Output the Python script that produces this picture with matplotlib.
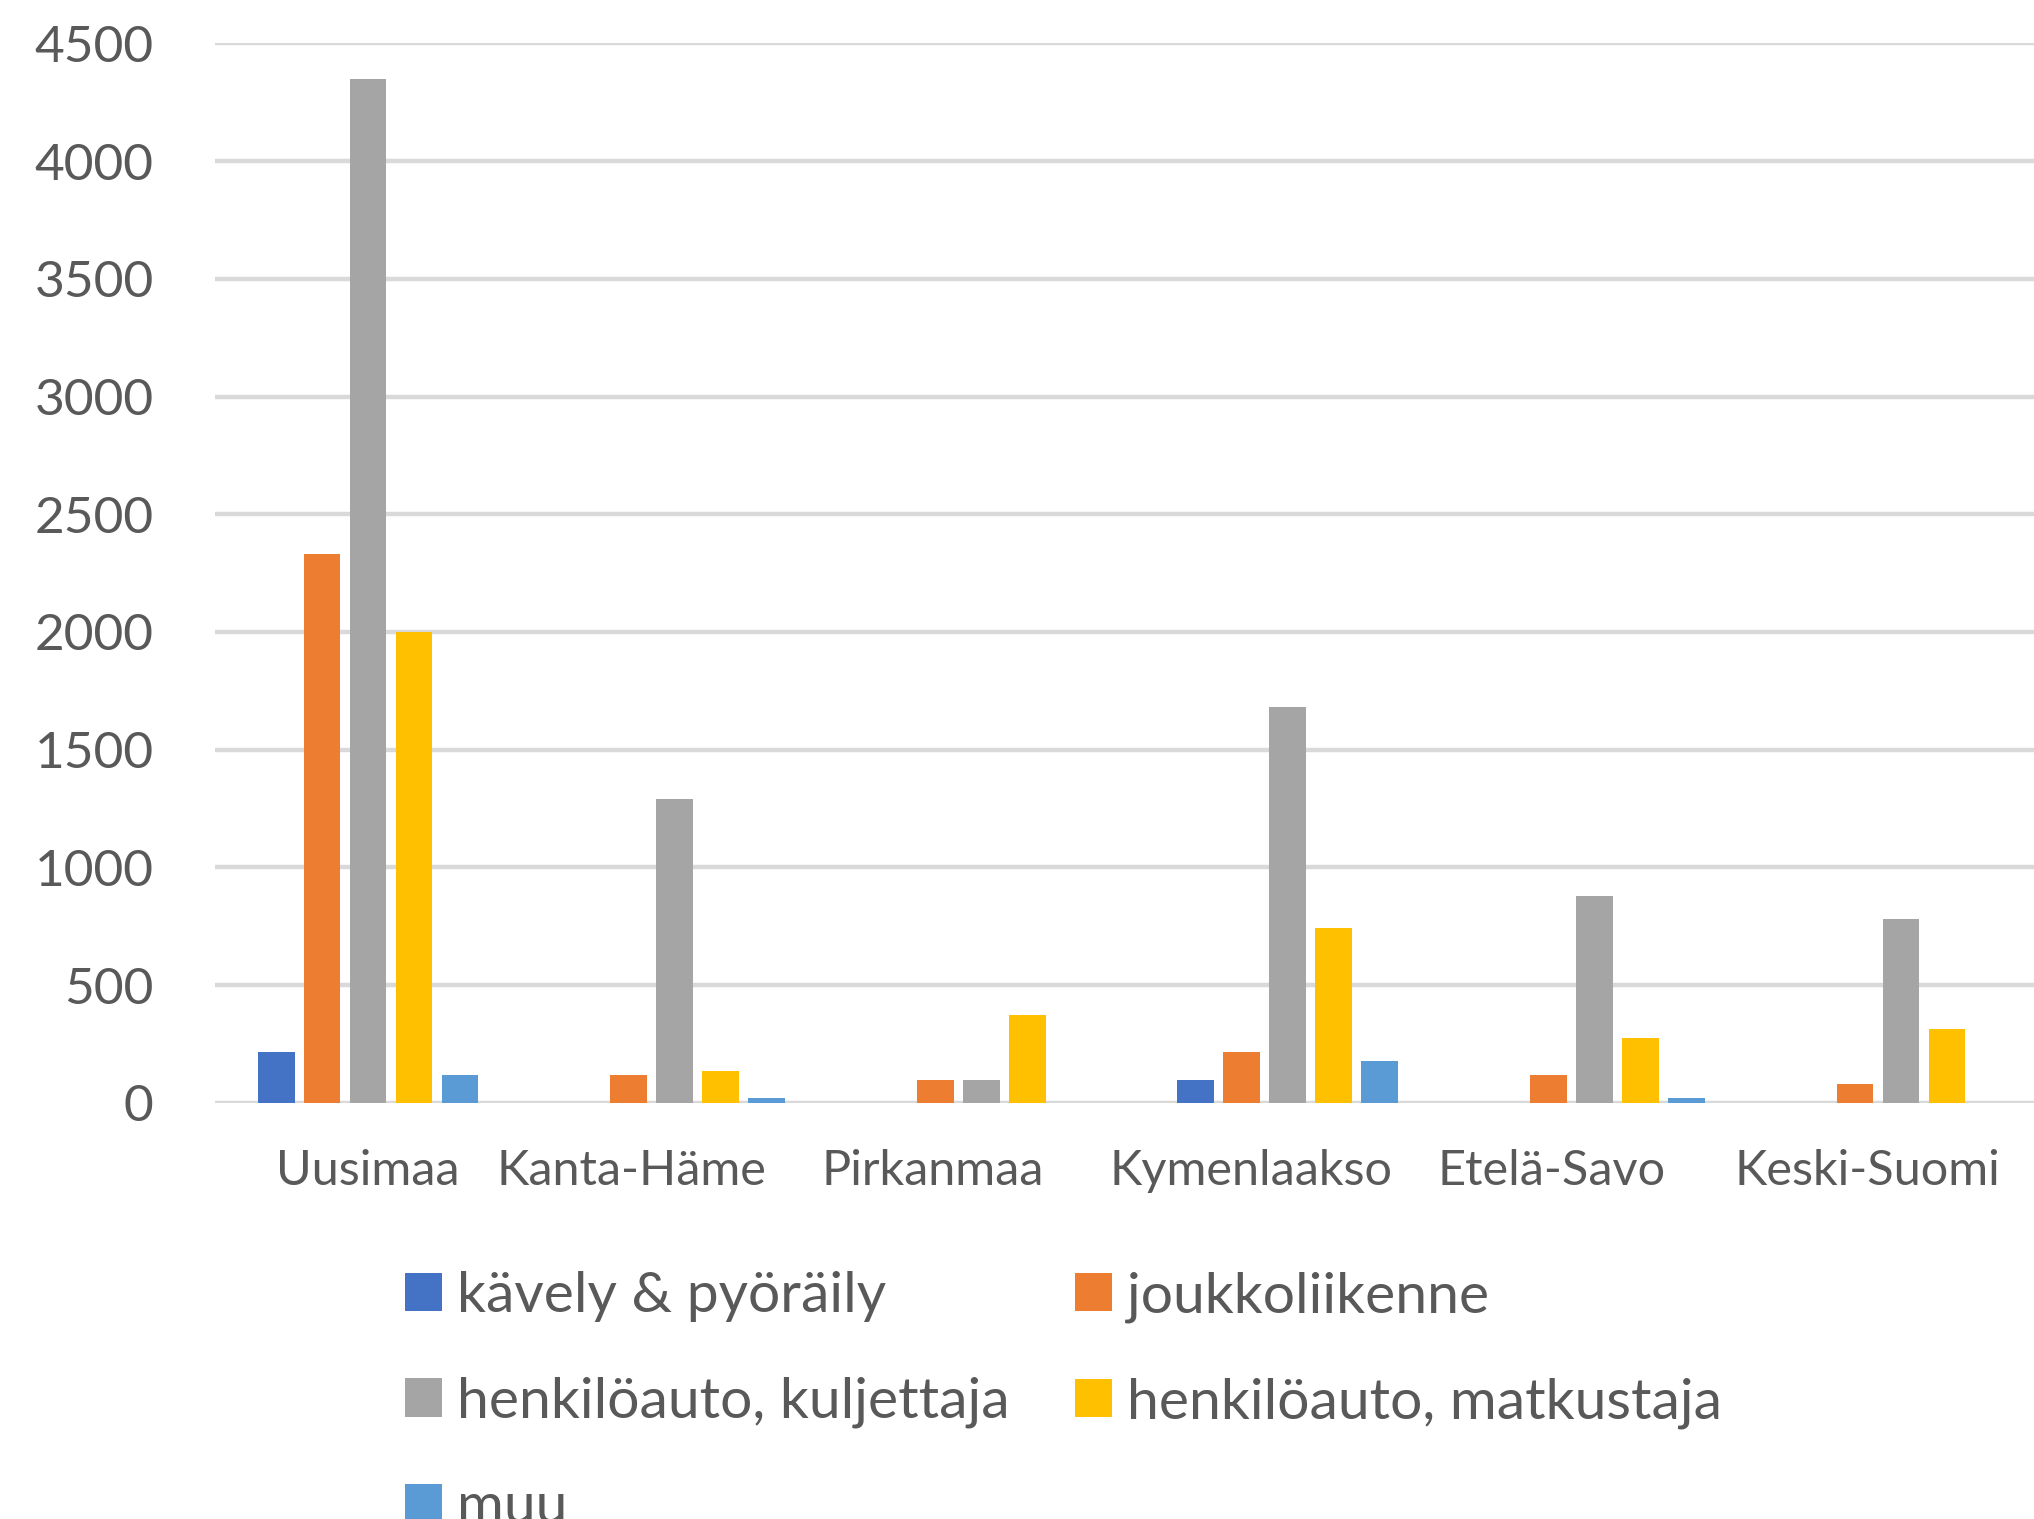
import matplotlib
matplotlib.use('Agg')
import matplotlib.pyplot as plt
import numpy as np

# Data
regions = ['Uusimaa', 'Kanta-Häme', 'Pirkanmaa', 'Kymenlaakso', 'Etelä-Savo', 'Keski-Suomi']
kavely = [216, 0, 0, 98, 0, 0]
joukko = [2330, 119, 98, 216, 119, 81]
kuljettaja = [4350, 1290, 98, 1680, 880, 780]
matkustaja = [2000, 136, 373, 742, 276, 314]
muu = [119, 21, 0, 178, 21, 0]

series = ['kävely & pyöräily', 'joukkoliikenne', 'henkilöauto, kuljettaja',
          'henkilöauto, matkustaja', 'muu']
values = [kavely, joukko, kuljettaja, matkustaja, muu]
colors = ['#4472C4', '#ED7D31', '#A5A5A5', '#FFC000', '#5B9BD5']
yticks = [0, 500, 1000, 1500, 2000, 2500, 3000, 3500, 4000, 4500]

# in the original the category labels sit a bit left of their bar groups
label_shift = [0, -0.14, -0.16, -0.12, -0.14, -0.11]

plt.rcParams['font.family'] = ['Lato', 'DejaVu Sans']
text_color = '#595959'

fig = plt.figure(figsize=(20.34, 15.19), dpi=100)
ax = fig.add_axes([0.1056, 0.2739, 0.9044, 0.6976])

x = np.arange(len(regions))
pitch = 0.150
width = 0.120
bars = []
for i, (name, vals, c) in enumerate(zip(series, values, colors)):
    b = ax.bar(x + (i - 2) * pitch, vals, width, color=c, label=name, zorder=3)
    bars.append(b)

ax.set_xlim(-0.5, len(regions) - 0.5)
ax.set_ylim(0, 4500)
ax.set_yticks(yticks)
ax.set_yticklabels([str(v) for v in yticks])
ax.set_xticks(x + np.array(label_shift))
ax.set_xticklabels(regions)
ax.yaxis.grid(True, color='#D9D9D9', linewidth=3.2, zorder=0)
ax.set_axisbelow(True)
for s in ax.spines.values():
    s.set_visible(False)
ax.tick_params(axis='y', length=0, pad=44, labelsize=37, labelcolor=text_color)
ax.tick_params(axis='x', length=0, pad=33, labelsize=35, labelcolor=text_color)

# legend: two columns, filled row by row like the original
order = [0, 2, 4, 1, 3]
fig.legend([bars[i] for i in order], [series[i] for i in order],
           ncol=2, loc='upper left', bbox_to_anchor=(0.199, 0.163),
           frameon=False, fontsize=41, labelcolor=text_color,
           handlelength=0.65, handleheight=0.65, handletextpad=0.26,
           labelspacing=0.95, columnspacing=1.15, borderpad=0, borderaxespad=0)

fig.savefig('out.png', dpi=100)
